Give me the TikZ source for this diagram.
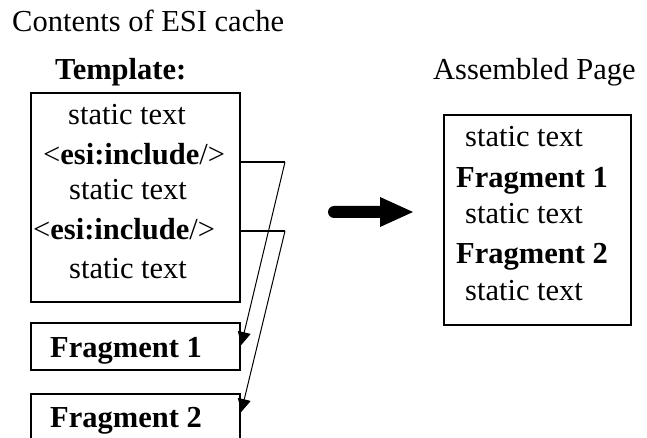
\documentclass[tikz,border=0pt]{standalone}
\usepackage{fontspec}
\setmainfont{Liberation Serif}
\usetikzlibrary{arrows.meta,calc}
\begin{document}
\begin{tikzpicture}[x=1pt,y=-1pt,
  txt/.style={anchor=base west,inner sep=0pt,font=\fontsize{30.5pt}{36pt}\selectfont},
  bx/.style={draw,line width=2.4pt,inner sep=0pt},
  link/.style={line width=2pt},
  feed/.style={line width=1pt,-{Triangle[length=13pt,width=13pt]}}]
\useasboundingbox (0,0) rectangle (647,438);
\clip (0,0) rectangle (647,438);
% titles
\node[txt] (title) at (12,32) {Contents of ESI cache};
\node[txt] (tpltitle) at (55,80) {\textbf{Template:}};
\node[txt] (asmtitle) at (433,80) {Assembled Page};
% template box
\node[bx,minimum width=209pt,minimum height=209pt] (tpl) at (135.5,197.5) {};
\node[txt] (t1) at (68,125) {static text};
\node[txt] (t2) at (43,165) {<\textbf{esi:include}/>};
\node[txt] (t3) at (69,200) {static text};
\node[txt] (t4) at (33,240) {<\textbf{esi:include}/>};
\node[txt] (t5) at (69,278) {static text};
% fragments
\node[bx,minimum width=209pt,minimum height=47pt] (f1) at (135.5,346.5) {};
\node[txt] (f1t) at (50,357) {\textbf{Fragment 1}};
\node[bx,minimum width=209pt,minimum height=70pt,anchor=north] (f2) at (135.5,393) {};
\node[txt] (f2t) at (50,427) {\textbf{Fragment 2}};
% connectors
\coordinate (s1) at (tpl.east |- 0,162);
\coordinate (c1) at (285,162);
\coordinate (e1) at (f1.east |- 0,345);
\coordinate (s2) at (tpl.east |- 0,231);
\coordinate (c2) at (285,231);
\coordinate (e2) at (f2.east |- 0,412);
\draw[link] (s1) -- (c1);
\draw[link] (s2) -- (c2);
\draw[feed] (c1) -- (e1);
\draw[feed] (c2) -- (e2);
% big arrow
\coordinate (a0) at (328,212);
\coordinate (a1) at (413,212);
\fill (334,206) -- (380,206) -- (380,197) -- (a1) -- (380,227) -- (380,218) -- (334,218) arc[start angle=270,end angle=90,radius=6pt] -- cycle;
% assembled page
\node[bx,minimum width=187pt,minimum height=210pt] (asm) at (537.5,220) {};
\node[txt] (a1t) at (465,147) {static text};
\node[txt] (a2t) at (456,188) {\textbf{Fragment 1}};
\node[txt] (a3t) at (465,223) {static text};
\node[txt] (a4t) at (456,263) {\textbf{Fragment 2}};
\node[txt] (a5t) at (465,300) {static text};
\end{tikzpicture}
\end{document}
